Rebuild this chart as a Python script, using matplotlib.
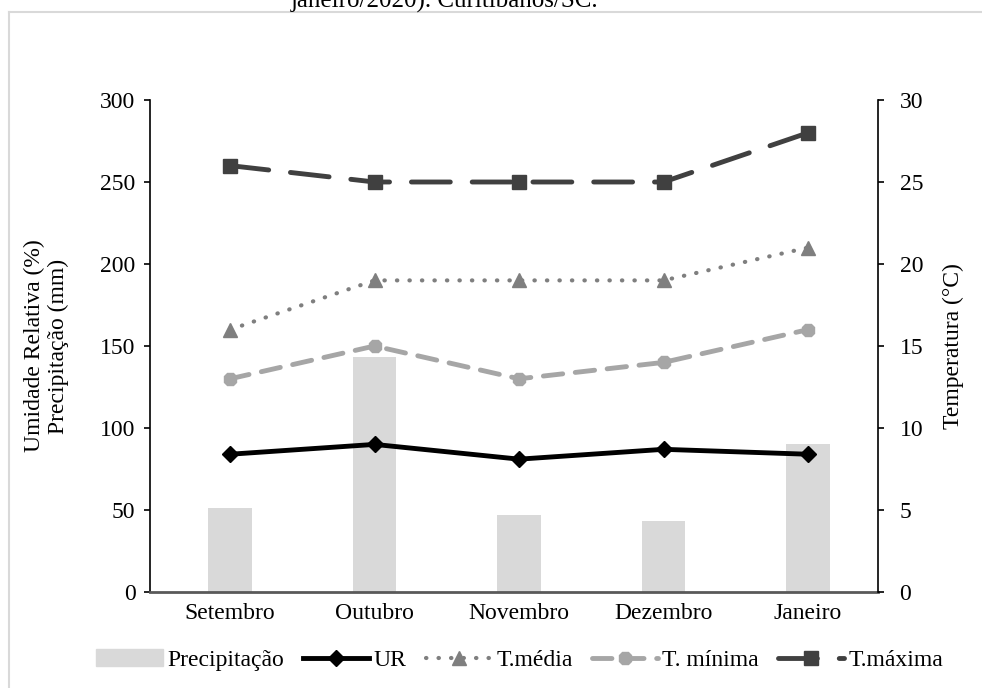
import matplotlib
matplotlib.use('Agg')
import matplotlib.pyplot as plt
from matplotlib.lines import Line2D
from matplotlib.patches import Patch

plt.rcParams['font.family'] = ['Liberation Serif', 'DejaVu Serif']
FONTSIZE = 17

# Dados mensais
meses = ['Setembro', 'Outubro', 'Novembro', 'Dezembro', 'Janeiro']
precipitacao = [51, 143, 47, 43, 90]
ur = [84, 90, 81, 87, 84]
t_media = [16, 19, 19, 19, 21]
t_minima = [13, 15, 13, 14, 16]
t_maxima = [26, 25, 25, 25, 28]

# estilos das séries
st_max = dict(color='#404040', lw=3.5, ls=(0, (8, 4.5)), marker='s', ms=10)
st_med = dict(color='#7f7f7f', lw=3, ls=(0, (0.1, 2.9)), marker='^', ms=10)
st_min = dict(color='#a6a6a6', lw=3.5, ls=(0, (4, 2.6)), marker='8', ms=10)
st_ur = dict(color='black', lw=3.5, marker='D', ms=8)

fig = plt.figure(figsize=(9.82, 6.88), dpi=100)
ax = fig.add_axes([150/982, 1 - 592/688, 728/982, 492/688])
ax2 = ax.twinx()

x = range(len(meses))

# barras e UR no eixo esquerdo
ax.bar(x, precipitacao, width=0.3, color='#d9d9d9', zorder=1)
ax.plot(x, ur, zorder=3, **st_ur)

# temperaturas no eixo direito
ax2.plot(x, t_maxima, dash_capstyle='round', **st_max)
ax2.plot(x, t_media, dash_capstyle='round', **st_med)
ax2.plot(x, t_minima, dash_capstyle='round', **st_min)

ax.set_xlim(-0.554, 4.484)
ax.set_ylim(0, 300)
ax.set_yticks(range(0, 301, 50))
ax2.set_ylim(0, 30)
ax2.set_yticks(range(0, 31, 5))
ax.set_xticks(list(x))
ax.set_xticklabels(meses)

for a in (ax, ax2):
    a.spines['top'].set_visible(False)
    a.tick_params(labelsize=FONTSIZE, length=4.5, width=1.2, color='black')
    for s in a.spines.values():
        s.set_linewidth(1.2)
ax.spines['right'].set_visible(False)
ax2.spines['left'].set_visible(False)
ax2.spines['bottom'].set_visible(False)
ax.spines['bottom'].set_color('#595959')
ax.spines['bottom'].set_linewidth(2)
ax.tick_params(axis='x', length=0, pad=8)
ax.tick_params(axis='y', pad=6)
ax2.tick_params(axis='y', pad=11)

ax.set_ylabel('Umidade Relativa (%)\nPrecipitação (mm)', fontsize=FONTSIZE, labelpad=22)
ax2.set_ylabel('Temperatura (°C)', fontsize=FONTSIZE, labelpad=14)

handles = [
    Patch(color='#d9d9d9'),
    Line2D([], [], **st_ur),
    Line2D([], [], dash_capstyle='round', **st_med),
    Line2D([], [], dash_capstyle='round', **st_min),
    Line2D([], [], dash_capstyle='round', **st_max),
]
labels = ['Precipitação', 'UR', 'T.média', 'T. mínima', 'T.máxima']
fig.legend(handles, labels, loc='center', bbox_to_anchor=(520/982, 1 - 660/688),
           ncol=5, frameon=False, fontsize=FONTSIZE, handlelength=2.8,
           handletextpad=0.2, columnspacing=0.8)

# título cortado e moldura
fig.text(445/982, 1 - 1/688, 'janeiro/2020). Curitibanos/SC.', ha='center', va='center',
         fontsize=18)
fig.add_artist(Line2D([9/982, 9/982], [0, 1 - 12/688], color='#d9d9d9', lw=1.5,
                      transform=fig.transFigure))
fig.add_artist(Line2D([9/982, 1], [1 - 12/688, 1 - 12/688], color='#d9d9d9', lw=1.5,
                      transform=fig.transFigure))

fig.savefig('out.png', dpi=100)
